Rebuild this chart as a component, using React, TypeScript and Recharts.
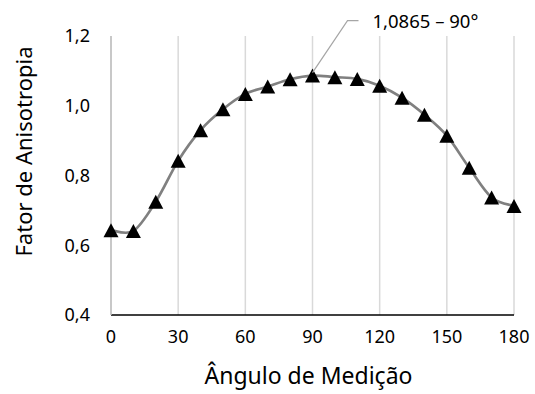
import React from "react";
import {
  ComposedChart,
  Line,
  XAxis,
  YAxis,
  CartesianGrid,
  ReferenceDot,
  Label,
} from "recharts";

const angles = [0, 10, 20, 30, 40, 50, 60, 70, 80, 90, 100, 110, 120, 130, 140, 150, 160, 170, 180];
const anisotropy = [
  0.643, 0.641, 0.725, 0.842, 0.93, 0.99, 1.034, 1.055, 1.076, 1.0865, 1.082, 1.077, 1.0575, 1.023, 0.974,
  0.914, 0.822, 0.737, 0.7125,
];
const xTicks = [0, 30, 60, 90, 120, 150, 180];
const yTicks = [0.4, 0.6, 0.8, 1.0, 1.2];
const peakAngle = 90;
const peakValue = 1.0865;
const peakText = "1,0865 – 90°";
const xTitle = "Ângulo de Medição";
const yTitle = "Fator de Anisotropia";

const data = angles.map((a, i) => ({ angle: a, value: anisotropy[i] }));

const FONT = "'Noto Sans', sans-serif";
const fmt = (v: number) => v.toFixed(1).replace(".", ",");

// Catmull-Rom style smoothing (like spreadsheet "smoothed line")
const smoothCurve = (context: any) => {
  let pts: number[][] = [];
  return {
    areaStart() {},
    areaEnd() {},
    lineStart() {
      pts = [];
    },
    point(x: number, y: number) {
      pts.push([+x, +y]);
    },
    lineEnd() {
      const n = pts.length;
      if (!n) return;
      context.moveTo(pts[0][0], pts[0][1]);
      const k = 1 / 6;
      for (let i = 0; i < n - 1; i++) {
        const p0 = pts[Math.max(0, i - 1)];
        const p1 = pts[i];
        const p2 = pts[i + 1];
        const p3 = pts[Math.min(n - 1, i + 2)];
        const c1x = p1[0] + k * (p2[0] - p0[0]);
        const c1y = p1[1] + k * (p2[1] - p0[1]);
        const c2x = p2[0] - k * (p3[0] - p1[0]);
        const c2y = p2[1] - k * (p3[1] - p1[1]);
        context.bezierCurveTo(c1x, c1y, c2x, c2y, p2[0], p2[1]);
      }
    },
  };
};

const Triangle = (props: any) => {
  const { cx, cy } = props;
  if (cx == null || cy == null) return null;
  return (
    <polygon
      points={`${cx},${cy - 7} ${cx - 7.5},${cy + 7} ${cx + 7.5},${cy + 7}`}
      fill="#000"
    />
  );
};

const PeakCallout = (props: any) => {
  const { cx, cy } = props;
  if (cx == null || cy == null) return null;
  const ex = cx + 35;
  const ey = cy - 55;
  return (
    <g>
      <polyline
        points={`${cx},${cy - 3} ${ex},${ey} ${ex + 11},${ey}`}
        fill="none"
        stroke="#a6a6a6"
        strokeWidth={1.2}
      />
      <text
        x={ex + 25}
        y={ey}
        dominantBaseline="central"
        fontFamily={FONT}
        fontSize={18.5}
        fill="#000"
      >
        {peakText}
      </text>
    </g>
  );
};

const YTitle = (props: any) => {
  const vb = props.viewBox || {};
  const x = (vb.x || 0) + 23;
  const y = (vb.y || 0) + vb.height / 2 - 24;
  return (
    <text
      x={x}
      y={y}
      transform={`rotate(-90, ${x}, ${y})`}
      textAnchor="middle"
      dominantBaseline="central"
      fontFamily={FONT}
      fontSize={22}
      fill="#000"
    >
      {yTitle}
    </text>
  );
};

export default function App() {
  return (
    <div style={{ position: "absolute", left: 0, top: 0, width: 535, height: 394, background: "#fff" }}>
      <ComposedChart
        width={535}
        height={394}
        data={data}
        margin={{ top: 36, right: 21, bottom: 0, left: 0 }}
      >
        <CartesianGrid horizontal={false} vertical={true} stroke="#d9d9d9" strokeWidth={1.5} />
        <XAxis
          dataKey="angle"
          type="number"
          domain={[0, 180]}
          ticks={xTicks}
          height={79}
          tickLine={false}
          tickSize={0}
          tickMargin={15}
          axisLine={{ stroke: "#000", strokeWidth: 1.5 }}
          tick={{ fontFamily: FONT, fontSize: 18, fill: "#000" }}
          interval={0}
        >
          <Label
            value={xTitle}
            position="insideBottom"
            offset={10}
            dx={-4}
            style={{ fontFamily: FONT, fontSize: 23, fill: "#000" }}
          />
        </XAxis>
        <YAxis
          type="number"
          domain={[0.4, 1.2]}
          ticks={yTicks}
          width={111}
          tickLine={false}
          tickSize={0}
          tickMargin={21}
          axisLine={{ stroke: "#bfbfbf", strokeWidth: 1.5 }}
          tickFormatter={fmt}
          tick={{ fontFamily: FONT, fontSize: 18, fill: "#000" }}
          interval={0}
        >
          <Label content={<YTitle />} />
        </YAxis>
        <Line
          type={smoothCurve as any}
          dataKey="value"
          stroke="#808080"
          strokeWidth={2.7}
          dot={<Triangle />}
          activeDot={false}
          isAnimationActive={false}
        />
        <ReferenceDot x={peakAngle} y={peakValue} r={0} shape={<PeakCallout />} />
      </ComposedChart>
    </div>
  );
}
